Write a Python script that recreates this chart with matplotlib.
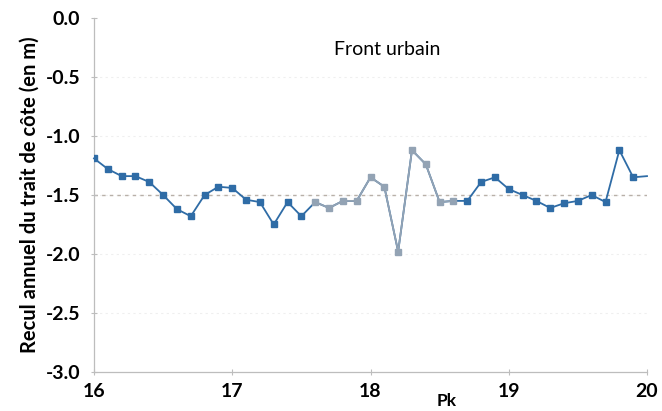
import numpy as np
import matplotlib
matplotlib.use("Agg")
import matplotlib.pyplot as plt

# ---- data ----
pk = [16.0, 16.1, 16.2, 16.3, 16.4, 16.5, 16.6, 16.7, 16.8, 16.9,
      17.0, 17.1, 17.2, 17.3, 17.4, 17.5, 17.6, 17.7, 17.8, 17.9,
      18.0, 18.1, 18.2, 18.3, 18.4, 18.5, 18.6, 18.7, 18.8, 18.9,
      19.0, 19.1, 19.2, 19.3, 19.4, 19.5, 19.6, 19.7, 19.8, 19.9, 20.0]
recul = [-1.19, -1.28, -1.34, -1.34, -1.39, -1.50, -1.62, -1.68, -1.50, -1.43,
         -1.44, -1.54, -1.56, -1.75, -1.56, -1.68, -1.56, -1.61, -1.55, -1.55,
         -1.35, -1.43, -1.98, -1.12, -1.24, -1.56, -1.55, -1.55, -1.39, -1.35,
         -1.45, -1.50, -1.55, -1.61, -1.57, -1.55, -1.50, -1.56, -1.12, -1.35, -1.34]
x_ticks = [16, 17, 18, 19, 20]
y_ticks = [0.0, -0.5, -1.0, -1.5, -2.0, -2.5, -3.0]
reference_level = -1.5
title_text = "Front urbain"
ylabel_text = "Recul annuel du trait de côte (en m)"
xlabel_text = "Pk"

FONT = ["Lato", "DejaVu Sans"]
BLUE = "#2f6ca6"
GREY = "#93a3b4"

fig = plt.figure(figsize=(6.62, 4.11), dpi=100)
ax = fig.add_axes([94 / 662, 1 - 372 / 411, (647 - 94) / 662, (372 - 18) / 411])

ax.set_xlim(16, 20)
ax.set_ylim(-3.0, 0.0)

# faint dotted gridlines
for yv in y_ticks:
    if yv in (0.0, -3.0):
        continue
    ax.axhline(yv, color="#efefef", lw=0.8, ls=(0, (2, 3)), zorder=1)
ax.axhline(reference_level, color="#b8b0a8", lw=1.0, ls=(0, (2.5, 3)), zorder=1)

pk_a = np.array(pk)
rc = np.array(recul)
faded = (pk_a >= 17.55) & (pk_a <= 18.65)

# main series
ax.plot(pk_a, rc, color=BLUE, lw=1.3, zorder=3, clip_on=False)
# faded (lighter) portion as seen on the scan
ax.plot(pk_a[faded], rc[faded], color=GREY, lw=1.3, zorder=4)
# markers
show = pk_a < 19.95
ax.plot(pk_a[show & ~faded], rc[show & ~faded], ls="none", marker="s", ms=4.6,
        color=BLUE, mec=BLUE, zorder=5)
ax.plot(pk_a[show & faded], rc[show & faded], ls="none", marker="s", ms=4.6,
        color=GREY, mec=GREY, zorder=5)

# spines
for s in ["top", "right"]:
    ax.spines[s].set_visible(False)
for s in ["left", "bottom"]:
    ax.spines[s].set_color("#bdbdbd")
    ax.spines[s].set_linewidth(0.9)

ax.set_xticks(x_ticks)
ax.set_yticks(y_ticks)
ax.set_yticklabels([f"{v:.1f}" for v in y_ticks])
ax.tick_params(axis="both", colors="#bdbdbd", length=4, width=0.8,
               labelcolor="black", direction="inout")
ax.tick_params(axis="x", pad=6)
ax.tick_params(axis="y", pad=8)
for lab in ax.get_xticklabels() + ax.get_yticklabels():
    lab.set_fontfamily(FONT)
    lab.set_fontweight("bold")
    lab.set_fontsize(14)

ax.set_ylabel(ylabel_text, family=FONT, fontweight="bold", fontsize=14.5, labelpad=4)

ax.annotate(xlabel_text, xy=(18.55, -3.0), xytext=(0, -15), textcoords="offset points",
            family=FONT, fontweight="bold", fontsize=12.5, ha="center", va="top",
            annotation_clip=False)

ax.text(18.12, -0.27, title_text, family=FONT, fontsize=14, ha="center", va="center")

fig.savefig("out.png", dpi=100, facecolor="white")
